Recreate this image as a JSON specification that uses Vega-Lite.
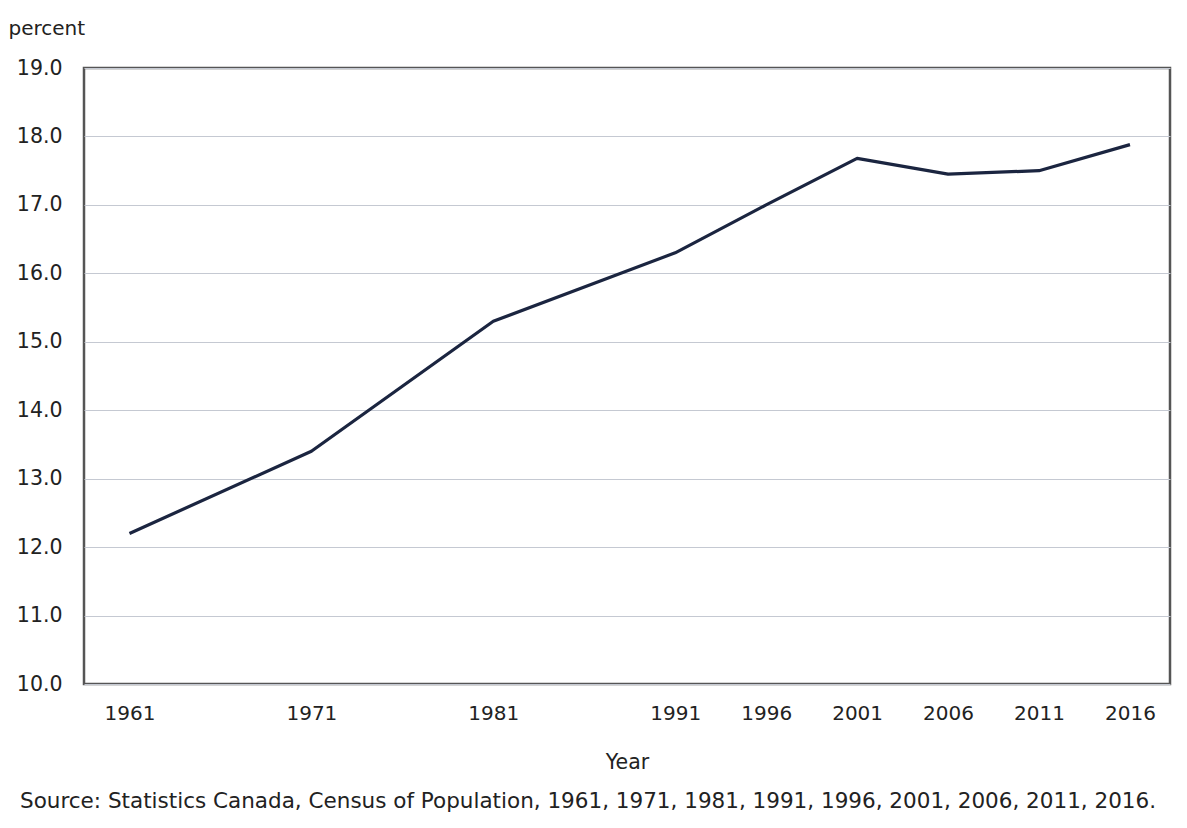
{
  "$schema": "https://vega.github.io/schema/vega-lite/v6.json",
  "width": 1086,
  "height": 616,
  "autosize": {"type": "none"},
  "padding": {"left": 84, "top": 68, "right": 17, "bottom": 144},
  "background": "white",
  "config": {
    "font": "DejaVu Sans",
    "view": {"stroke": "#555555", "strokeWidth": 2.5}
  },
  "title": {
    "text": "Source: Statistics Canada, Census of Population, 1961, 1971, 1981, 1991, 1996, 2001, 2006, 2011, 2016.",
    "orient": "bottom",
    "anchor": "start",
    "frame": "group",
    "dx": -64,
    "offset": 18,
    "fontSize": 21.5,
    "fontWeight": "normal",
    "color": "#222222",
    "font": "DejaVu Sans"
  },
  "data": {
    "values": [
      {"year": 1961, "percent": 12.2},
      {"year": 1971, "percent": 13.4},
      {"year": 1981, "percent": 15.3},
      {"year": 1991, "percent": 16.3},
      {"year": 1996, "percent": 17.0},
      {"year": 2001, "percent": 17.68},
      {"year": 2006, "percent": 17.45},
      {"year": 2011, "percent": 17.5},
      {"year": 2016, "percent": 17.88}
    ]
  },
  "mark": {"type": "line", "color": "#1b2540", "strokeWidth": 3.2, "strokeJoin": "round"},
  "encoding": {
    "x": {
      "field": "year",
      "type": "quantitative",
      "scale": {"domain": [1958.5, 2018.2], "nice": false, "zero": false},
      "axis": {
        "title": "Year",
        "values": [1961, 1971, 1981, 1991, 1996, 2001, 2006, 2011, 2016],
        "format": "d",
        "grid": false,
        "domain": false,
        "ticks": false,
        "labelPadding": 19,
        "labelFontSize": 20,
        "labelColor": "#222222",
        "titleFontSize": 20.5,
        "titleFontWeight": "normal",
        "titleColor": "#222222",
        "titleY": 78,
        "titleBaseline": "middle"
      }
    },
    "y": {
      "field": "percent",
      "type": "quantitative",
      "scale": {"domain": [10, 19], "nice": false, "zero": false},
      "axis": {
        "title": "percent",
        "values": [10, 11, 12, 13, 14, 15, 16, 17, 18, 19],
        "format": ".1f",
        "grid": true,
        "gridColor": "#c5c9d2",
        "gridWidth": 1.2,
        "domain": false,
        "ticks": false,
        "labelPadding": 22,
        "labelFontSize": 20.5,
        "labelColor": "#222222",
        "titleAngle": 0,
        "titleAlign": "left",
        "titleBaseline": "middle",
        "titleX": -76,
        "titleY": -40,
        "titleFontSize": 20,
        "titleFontWeight": "normal",
        "titleColor": "#222222"
      }
    }
  }
}
